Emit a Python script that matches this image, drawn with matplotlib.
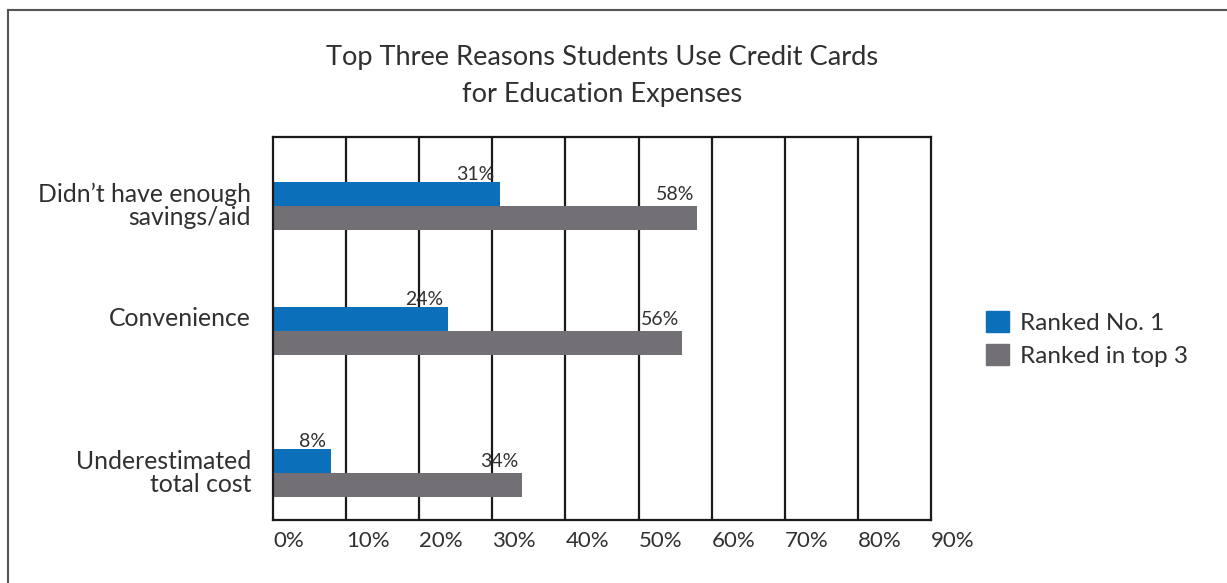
import numpy as np
import matplotlib.pyplot as plt
from matplotlib.lines import Line2D
from matplotlib.patches import Patch

plt.rcParams['font.family'] = ['Lato', 'DejaVu Sans']

reasons = ["Didn\u2019t have enough\nsavings/aid", "Convenience", "Underestimated\ntotal cost"]
ranked_first = [31, 24, 8]
ranked_top3 = [58, 56, 34]
series_names = ["Ranked No. 1", "Ranked in top 3"]
ticks = list(range(0, 100, 10))

blue = '#0b70b9'
grey = '#727075'
text_col = '#303030'

fig = plt.figure(figsize=(12.27, 5.83), dpi=100)
W, H = 1227, 583
ax = fig.add_axes([273 / W, 1 - 520 / H, (931 - 273) / W, (520 - 137) / H])

# group centres (slot units), the last group sits a bit lower
y = np.array([0.0, 1.0, 2.136])
h = 0.192

ax.barh(y - h / 2, ranked_first, height=h, color=blue, label=series_names[0])
ax.barh(y + h / 2, ranked_top3, height=h, color=grey, label=series_names[1])

for yi, v in zip(y, ranked_first):
    ax.annotate(f"{v}%", (v, yi - h), xytext=(-4, -1), textcoords='offset points',
                ha='right', va='bottom', fontsize=14, color=text_col)
for yi, v in zip(y, ranked_top3):
    ax.annotate(f"{v}%", (v, yi), xytext=(-2, 2), textcoords='offset points',
                ha='right', va='bottom', fontsize=14, color=text_col)

ax.set_xlim(0, 90)
ax.set_ylim(2.512, -0.552)
ax.set_xticks(ticks)
ax.set_xticklabels([f"{t}%" for t in ticks], ha='left', fontsize=16, color=text_col)
ax.tick_params(axis='x', length=0, pad=8)
ax.set_yticks([])
for t in ticks[1:-1]:
    ax.axvline(t, color='#1a1a1a', lw=1.6, zorder=0)
for s in ax.spines.values():
    s.set_color('#1a1a1a')
    s.set_linewidth(1.6)

label_y = [0.0, 0.9, 2.136]
for ly, r in zip(label_y, reasons):
    ax.text(-3.0, ly, r, ha='right', va='center', fontsize=17.8, color=text_col,
            linespacing=1.0)

fig.text(602 / W, 1 - 76 / H, "Top Three Reasons Students Use Credit Cards\nfor Education Expenses",
         ha='center', va='center', fontsize=19.6, color=text_col, linespacing=1.6)

handles = [Patch(color=blue), Patch(color=grey)]
fig.legend(handles, series_names, loc='center left', bbox_to_anchor=(964 / W, 1 - 339 / H),
           frameon=False, fontsize=17.5, handlelength=0.95, handleheight=0.95,
           handletextpad=0.45, labelspacing=0.45, labelcolor=text_col)

# outer border
fig.add_artist(Line2D([8 / W, 8 / W], [0, 1 - 10 / H], color='#555555', lw=1.5))
fig.add_artist(Line2D([8 / W, 1], [1 - 10 / H, 1 - 10 / H], color='#555555', lw=1.5))

fig.savefig('out.png', dpi=100)
